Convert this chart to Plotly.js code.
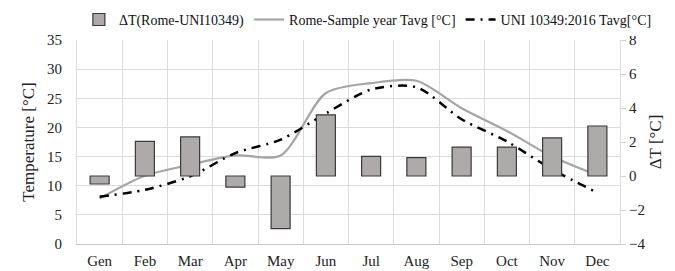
<!DOCTYPE html>
<html><head><meta charset="utf-8">
<script src="https://cdn.plot.ly/plotly-3.0.1.min.js"></script>
<style>html,body{margin:0;padding:0;background:#fff}#c{width:675px;height:271px}</style>
</head><body><div id="c"></div>
<script>
const months = ["Gen","Feb","Mar","Apr","May","Jun","Jul","Aug","Sep","Oct","Nov","Dec"];
const deltaT = [-0.47, 2.04, 2.3, -0.65, -3.1, 3.6, 1.16, 1.08, 1.7, 1.7, 2.24, 2.94];
const romeTavg = [7.8, 11.7, 13.6, 15.2, 15.2, 25.9, 27.6, 28.0, 23.3, 19.4, 15.0, 11.8];
const uniTavg = [8.1, 9.3, 11.6, 15.6, 17.9, 22.4, 26.5, 26.9, 21.4, 17.6, 12.8, 8.8];

const F = '"Liberation Serif", "Times New Roman", serif';
const data = [
  {type:"bar", x:months, y:deltaT, yaxis:"y2", name:"ΔT(Rome-UNI10349)", width:0.42,
   marker:{color:"#aeaaaa", line:{color:"#3a3a3a", width:1.2}}},
  {type:"scatter", mode:"lines", x:months, y:romeTavg, name:"Rome-Sample year Tavg [°C]",
   line:{color:"#a5a5a5", width:2.2, shape:"spline", smoothing:0.8}},
  {type:"scatter", mode:"lines", x:months, y:uniTavg, name:"UNI 10349:2016 Tavg[°C]",
   line:{color:"#000000", width:2.5, shape:"spline", smoothing:0.8, dash:"9px,6px,2px,6px"}}
];
const layout = {
  width:675, height:271,
  margin:{l:0, r:0, t:40, b:27},
  paper_bgcolor:"#fff", plot_bgcolor:"#fff",
  font:{family:F, size:15, color:"#222"},
  showlegend:true,
  legend:{orientation:"h", x:0.545, xanchor:"center", y:1.02, yanchor:"bottom",
          font:{family:F, size:14, color:"#111"}, traceorder:"normal"},
  xaxis:{type:"category", domain:[77/675, 620/675], tickson:"boundaries", showgrid:true, gridcolor:"#dcdcdc",
         showline:true, linecolor:"#c8c8c8", ticks:"", tickfont:{family:F, size:15},
         ticklabelstandoff:3, zeroline:false},
  yaxis:{range:[0,35], dtick:5, showgrid:true, gridcolor:"#dcdcdc", zeroline:false,
         showline:true, linecolor:"#dcdcdc", tickfont:{family:F, size:15}, ticklabelstandoff:11,
         title:{text:"Temperature [°C]", font:{family:F, size:17}, standoff:8}},
  yaxis2:{range:[-4,8], dtick:2, overlaying:"y", side:"right", showgrid:false, zeroline:false,
          ticks:"outside", ticklen:5, tickcolor:"#d0d0d0", showline:true, linecolor:"#dcdcdc",
          tickfont:{family:F, size:15},
          title:{text:"ΔT [°C]", font:{family:F, size:17}, standoff:4}},
  bargap:0.5
};
Plotly.newPlot("c", data, layout, {displayModeBar:false, staticPlot:true});
</script>
</body></html>
